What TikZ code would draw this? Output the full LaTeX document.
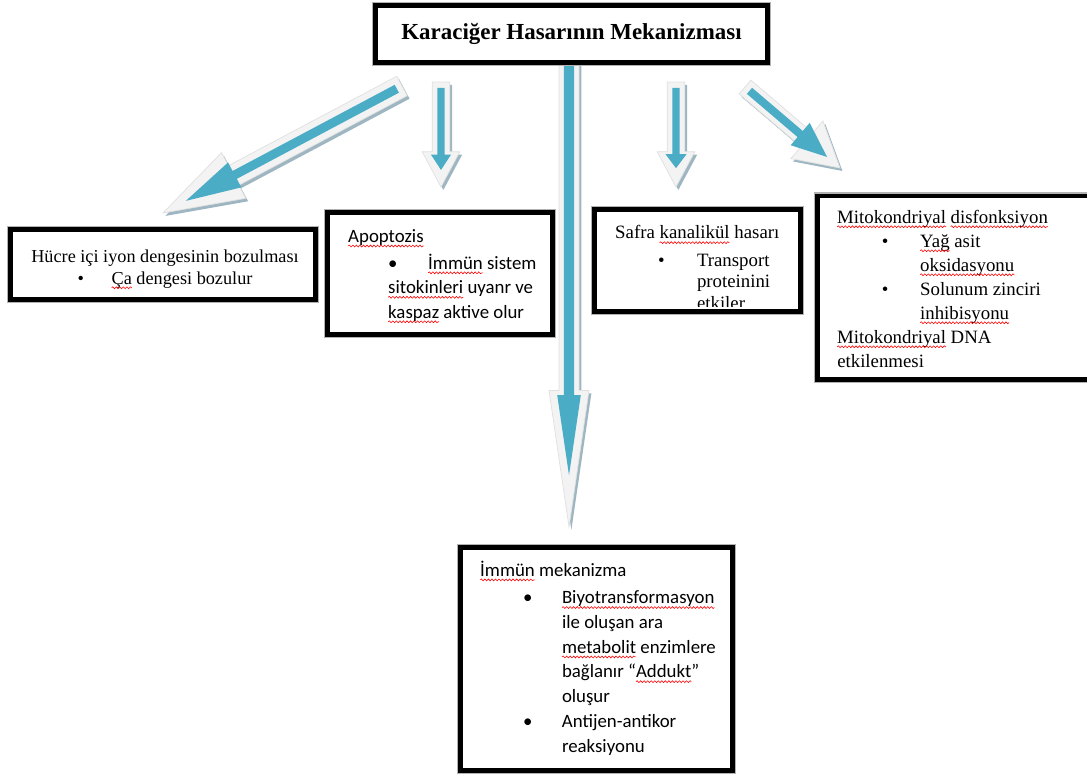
\documentclass[tikz,border=0pt]{standalone}
\usepackage{fontspec}
\setmainfont{Liberation Serif}
\newfontfamily\calibri{Carlito}
\usetikzlibrary{calc}
\usetikzlibrary{decorations.pathmorphing}

\definecolor{arrowblue}{HTML}{4BACC6}
\definecolor{arrowwhite}{HTML}{F3F3F3}
\definecolor{arrowshade}{HTML}{9DB6C2}

\tikzstyle{diagram}=[x=0.85pt, y=-0.85pt, font=\fontsize{16pt}{20.4pt}\selectfont]
\tikzstyle{pane}=[rectangle, draw=black, line width=3.8pt, fill=white, preaction={draw=black!30, line width=6pt}]
\tikzstyle{blocktext}=[anchor=base west, inner sep=0pt, align=left]
\tikzstyle{arrshadow}=[fill=arrowshade, draw=none, transform canvas={xshift=2pt,yshift=-2.5pt}]
\tikzstyle{arrouter}=[fill=arrowwhite, draw=black!12, line width=0.6pt]
\tikzstyle{arrinner}=[fill=arrowblue, draw=none]
\tikzstyle{wave}=[overlay, red, line width=0.5pt, decorate, decoration={snake, amplitude=0.8pt, segment length=3pt}]

\newcommand{\blt}[1][33pt]{\makebox[#1][l]{\textbullet}}
\newcommand{\spell}[1]{\tikz[baseline=(sw.base)]{\node[inner sep=0pt, outer sep=0pt, anchor=base] (sw) {#1};
	\draw[wave] ([yshift=-3.2pt]sw.base west) -- ([yshift=-3.2pt]sw.base east);}}

% block arrow: tail, tip, shaft half width, head half width, head length
\newcommand{\blockarrow}[6][]{%
  \coordinate (ba-c) at ($(#3)!#6!(#2)$);
  \filldraw[#1] ($(#2)!#4!90:(#3)$) -- ($(ba-c)!#4!-90:(#2)$) -- ($(ba-c)!#5!-90:(#2)$) -- (#3)
    -- ($(ba-c)!#5!90:(#2)$) -- ($(ba-c)!#4!90:(#2)$) -- ($(#2)!#4!-90:(#3)$) -- cycle;
}
% shadow, white outline and blue core
\newcommand{\fatarrow}[9]{%
  \coordinate (fa-t) at ($(#1)!5pt!(#2)$);
  \coordinate (fa-e) at ($(#2)!#9!(#1)$);
  \blockarrow[arrshadow]{#1}{#2}{#3}{#4}{#5}
  \blockarrow[arrouter]{#1}{#2}{#3}{#4}{#5}
  \blockarrow[arrinner]{fa-t}{fa-e}{#6}{#7}{#8}
}

\begin{document}
\begin{tikzpicture}[diagram]
	\useasboundingbox (0,0) rectangle (1087,776);

	%The arrows
	\coordinate (a1s) at (402,86);
	\coordinate (a1e) at (163,213);
	\fatarrow{a1s}{a1e}{9.4pt}{22pt}{68pt}{3.8pt}{12pt}{47pt}{22pt}
	\coordinate (a2s) at (441,82);
	\coordinate (a2e) at (441,187);
	\fatarrow{a2s}{a2e}{7.5pt}{16pt}{30pt}{3pt}{8.5pt}{13pt}{14.5pt}
	\coordinate (a3s) at (569,60);
	\coordinate (a3e) at (569,527);
	\fatarrow{a3s}{a3e}{8.5pt}{17pt}{116pt}{4.3pt}{10pt}{68pt}{44pt}
	\coordinate (a4s) at (676,82);
	\coordinate (a4e) at (676,187);
	\fatarrow{a4s}{a4e}{7.5pt}{16pt}{30pt}{3pt}{9pt}{12pt}{16pt}
	\coordinate (a5s) at (745,87);
	\coordinate (a5e) at (840,168);
	\fatarrow{a5s}{a5e}{7.7pt}{21pt}{37pt}{3.4pt}{12.5pt}{30pt}{14.5pt}

	%The title
	\node[pane, minimum width=333pt, minimum height=48.5pt, font=\fontsize{19.5pt}{23pt}\selectfont\bfseries] (title) at (571.5,34) {Karaciğer Hasarının Mekanizması};

	%The boxes (text nodes sit on the baseline of their last line)
	\node[pane, minimum width=259pt, minimum height=59.5pt] (hucre) at (163,264.5) {};
	\node[anchor=base, inner sep=0pt, align=center, font=\fontsize{15.5pt}{18.3pt}\selectfont] (hucretext) at (165,284)
		{Hücre içi iyon dengesinin bozulması\\ \blt[29pt]\spell{Ça} dengesi bozulur};

	\node[pane, minimum width=191pt, minimum height=104pt] (apoptoz) at (440,273.5) {};
	\node[blocktext, font=\calibri\fontsize{16pt}{20.8pt}\selectfont] (apoptoztext) at (348,318)
		{\spell{Apoptozis}\\[2pt]
		\hspace*{34pt}\blt[34pt]\spell{İmmün} sistem\\
		\hspace*{34pt}\spell{sitokinleri} uyanr ve\\
		\hspace*{34pt}\spell{kaspaz} aktive olur};

	\node[pane, minimum width=175pt, minimum height=87pt] (safra) at (697.5,260.5) {};
	\begin{scope}
		\clip ([shift={(2pt,6.5pt)}]safra.south west) rectangle ([shift={(-2pt,-2pt)}]safra.north east);
		\node[blocktext, font=\fontsize{16pt}{17.9pt}\selectfont] (safratext) at (615,309)
			{Safra \spell{kanalikül} hasarı\\[5.9pt]
			\hspace*{36.5pt}\blt Transport\\
			\hspace*{69.5pt}proteinini\\
			\hspace*{69.5pt}etkiler};
	\end{scope}

	\node[pane, minimum width=240pt, minimum height=156pt] (mito) at (958.75,287.5) {};
	\node[blocktext, font=\fontsize{16pt}{20.4pt}\selectfont] (mitotext) at (837,367)
		{\spell{Mitokondriyal} \spell{disfonksiyon}\\
		\hspace*{38pt}\blt[32.5pt]\spell{Yağ} asit\\
		\hspace*{70.5pt}\spell{oksidasyonu}\\
		\hspace*{38pt}\blt[32.5pt]Solunum zinciri\\
		\hspace*{70.5pt}\spell{inhibisyonu}\\
		\spell{Mitokondriyal} DNA\\
		etkilenmesi};

	\node[pane, minimum width=231pt, minimum height=189.5pt] (immun) at (596.5,659) {};
	\node[blocktext, font=\calibri\fontsize{16pt}{21pt}\selectfont] (immuntext) at (480,752)
		{\spell{İmmün} mekanizma\\[2.5pt]
		\hspace*{36.5pt}\blt\spell{Biyotransformasyon}\\
		\hspace*{69.5pt}ile oluşan ara\\
		\hspace*{69.5pt}\spell{metabolit} enzimlere\\
		\hspace*{69.5pt}bağlanır “\spell{Addukt}”\\
		\hspace*{69.5pt}oluşur\\
		\hspace*{36.5pt}\blt Antijen-antikor\\
		\hspace*{69.5pt}reaksiyonu};
\end{tikzpicture}
\end{document}
